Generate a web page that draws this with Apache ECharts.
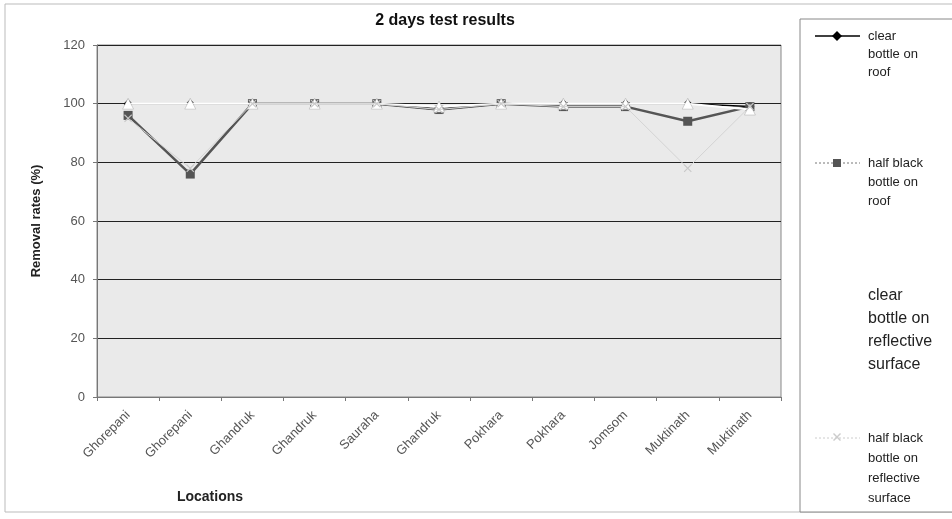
<!DOCTYPE html>
<html>
<head>
<meta charset="utf-8">
<script src="https://cdn.jsdelivr.net/npm/echarts@6/dist/echarts.min.js"></script>
<style>
  html, body { margin: 0; padding: 0; background: #fff; }
  #chart { width: 952px; height: 519px; }
</style>
</head>
<body>
<div id="chart"></div>
<script>
// 2 days test results - removal rates by location
const locations = ['Ghorepani', 'Ghorepani', 'Ghandruk', 'Ghandruk', 'Sauraha', 'Ghandruk',
  'Pokhara', 'Pokhara', 'Jomsom', 'Muktinath', 'Muktinath']
const yTicks = [0, 20, 40, 60, 80, 100, 120]

const clearRoof = [100, 100, 100, 100, 100, 98, 100, 100, 100, 100, 99]
const halfBlackRoof = [96, 76, 100, 100, 100, 98, 100, 99, 99, 94, 99]
const clearReflective = [100, 100, 100, 100, 100, 99, 100, 100, 100, 100, 98]
const halfBlackReflective = [95, 78, 100, 100, 100, 98, 100, 99, 99, 78, 99]

const FONT = 'Liberation Sans, Arial, sans-serif'
const X_PATH = 'path://M0,1L1,0L5,4L9,0L10,1L6,5L10,9L9,10L5,6L1,10L0,9L4,5Z'

const chart = echarts.init(document.getElementById('chart'))

// legend drawn by hand so the icon sits next to the first text line
function legendItem(y, icon, lines, fontSize, lineH) {
  const els = []
  if (icon) {
    els.push({
      type: 'line',
      shape: { x1: 815, y1: y, x2: 860, y2: y },
      style: { stroke: icon.line, lineWidth: icon.width, lineDash: icon.dash || null }
    })
    els.push({
      type: icon.shape,
      shape: icon.shapeDef,
      style: { fill: icon.fill, stroke: icon.stroke || null, lineWidth: 1 }
    })
  }
  lines.forEach((t, i) => {
    els.push({
      type: 'text',
      x: 868,
      y: y + i * lineH,
      style: { text: t, fill: '#222', font: fontSize + 'px ' + FONT, textVerticalAlign: 'middle' }
    })
  })
  return els
}

const legendEls = [].concat(
  legendItem(36, {
    line: '#000', width: 1.5, shape: 'polygon', fill: '#000',
    shapeDef: { points: [[837, 31], [842, 36], [837, 41], [832, 36]] }
  }, ['clear', 'bottle on', 'roof'], 13, 18),
  legendItem(163, {
    line: '#777', width: 1, dash: [2, 2], shape: 'rect', fill: '#555',
    shapeDef: { x: 833, y: 159, width: 8, height: 8 }
  }, ['half black', 'bottle on', 'roof'], 13, 19),
  legendItem(296, null, ['clear', 'bottle on', 'reflective', 'surface'], 16, 23),
  legendItem(438, {
    line: '#ccc', width: 1, dash: [2, 2], shape: 'polygon', fill: '#ccc',
    shapeDef: { points: [[833, 434], [834, 433], [837, 436], [840, 433], [841, 434], [838, 437], [841, 440], [840, 441], [837, 438], [834, 441], [833, 440], [836, 437]] }
  }, ['half black', 'bottle on', 'reflective', 'surface'], 13, 20)
)

chart.setOption({
  animation: false,
  backgroundColor: '#fff',
  textStyle: { fontFamily: FONT },
  title: {
    text: '2 days test results',
    left: 440,
    top: 8,
    textAlign: 'center',
    textStyle: { fontSize: 16, fontWeight: 'bold', color: '#111', fontFamily: FONT }
  },
  grid: {
    left: 97, right: 171, top: 45, bottom: 122,
    show: true, backgroundColor: '#eaeaea', borderColor: '#888', borderWidth: 1
  },
  xAxis: {
    type: 'category',
    data: locations,
    boundaryGap: true,
    axisLine: { lineStyle: { color: '#777' } },
    axisTick: { show: true, length: 4, lineStyle: { color: '#777' } },
    axisLabel: { rotate: 45, color: '#555', fontSize: 13, margin: 16, interval: 0 }
  },
  yAxis: {
    type: 'value',
    min: yTicks[0],
    max: yTicks[yTicks.length - 1],
    interval: 20,
    name: 'Removal rates (%)',
    nameLocation: 'middle',
    nameGap: 54,
    nameRotate: 90,
    nameTextStyle: { fontSize: 13, fontWeight: 'bold', color: '#222' },
    axisLine: { show: true, lineStyle: { color: '#777' } },
    axisTick: { show: true, length: 4, lineStyle: { color: '#777' } },
    axisLabel: { color: '#555', fontSize: 13, margin: 12 },
    splitLine: { lineStyle: { color: '#222', width: 1 } }
  },
  series: [
    {
      name: 'clear bottle on roof',
      type: 'line',
      data: clearRoof,
      symbol: 'diamond',
      symbolSize: 9,
      lineStyle: { color: '#000', width: 1.5 },
      itemStyle: { color: '#000' },
      z: 2
    },
    {
      name: 'half black bottle on roof',
      type: 'line',
      data: halfBlackRoof,
      symbol: 'rect',
      symbolSize: 9,
      lineStyle: { color: '#555', width: 2.5 },
      itemStyle: { color: '#555' },
      z: 3
    },
    {
      name: 'clear bottle on reflective surface',
      type: 'line',
      data: clearReflective,
      symbol: 'triangle',
      symbolSize: 11,
      lineStyle: { color: '#fff', width: 2 },
      itemStyle: { color: '#fff', borderColor: '#aaa', borderWidth: 0.5 },
      z: 4
    },
    {
      name: 'half black bottle on reflective surface',
      type: 'line',
      data: halfBlackReflective,
      symbol: X_PATH,
      symbolSize: 8,
      lineStyle: { color: '#d4d4d4', width: 1 },
      itemStyle: { color: '#c8c8c8' },
      z: 5
    }
  ],
  graphic: [
    {
      type: 'rect',
      shape: { x: 5, y: 4, width: 960, height: 508 },
      style: { fill: null, stroke: '#bbb', lineWidth: 1 },
      silent: true
    },
    {
      type: 'rect',
      shape: { x: 800, y: 19, width: 160, height: 493 },
      style: { fill: '#fff', stroke: '#888', lineWidth: 1 },
      silent: true
    },
    {
      type: 'text',
      x: 210,
      y: 497,
      style: {
        text: 'Locations', fill: '#222', font: 'bold 14px ' + FONT,
        textAlign: 'center', textVerticalAlign: 'middle'
      }
    }
  ].concat(legendEls)
})
</script>
</body>
</html>
